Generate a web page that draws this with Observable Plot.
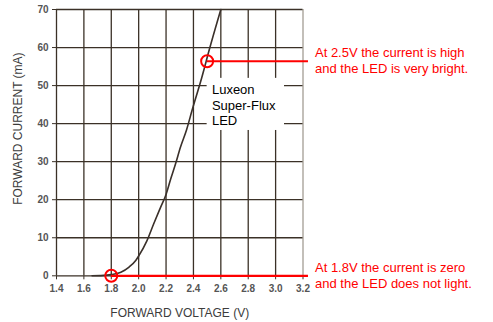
<!DOCTYPE html>
<html>
<head>
<meta charset="utf-8">
<script src="https://cdn.jsdelivr.net/npm/d3@7"></script>
<script src="https://cdn.jsdelivr.net/npm/@observablehq/plot@0.6"></script>
<style>
  html, body { margin: 0; padding: 0; background: #fff; }
  #chart svg { display: block; }
  #chart [aria-label="x-axis tick label"] text,
  #chart [aria-label="y-axis tick label"] text { font-weight: bold; }
  #chart [aria-label="x-axis label"] text { font-size: 12px; font-weight: normal; fill: #3c3c3c; }
</style>
</head>
<body>
<div id="chart"></div>
<script>
// Forward voltage (V) and forward current (mA) of the LED curve
const voltage = [1.66, 1.72, 1.80, 1.87, 1.93, 1.98, 2.00, 2.06, 2.11, 2.16, 2.20, 2.23, 2.27, 2.305, 2.35, 2.39, 2.46, 2.52, 2.60];
const current = [0, 0.05, 0.3, 0.95, 2.3, 4.1, 5.2, 9.2, 13.7, 18, 21.4, 25, 29.5, 33.8, 38.4, 43.5, 52, 60, 70];

const xTicks = [1.4, 1.6, 1.8, 2.0, 2.2, 2.4, 2.6, 2.8, 3.0, 3.2];
const yTicks = [0, 10, 20, 30, 40, 50, 60, 70];

const xTitle = "FORWARD VOLTAGE (V)";
const yTitle = "FORWARD CURRENT (mA)";

// highlighted operating points
const markV = [1.8, 2.5];
const markI = [0, 56.4];
const noteText = [
  "At 1.8V the current is zero\nand the LED does not light.",
  "At 2.5V the current is high\nand the LED is very bright."
];
const noteEndV = 3.24;

const ledLabel = "Luxeon\nSuper-Flux\nLED";
const ledLabelV = 2.535;
const ledLabelI = 45;
const ledBox = {x1: 2.50, x2: 3.065, y1: 38.2, y2: 51.9};

const curve = voltage.map((v, i) => ({v, i: current[i]}));
const marks = markV.map((v, k) => ({v, i: markI[k], note: noteText[k]}));

const grid = "#3b3127";

const chart = Plot.plot({
  width: 493,
  height: 322,
  marginLeft: 56,
  marginRight: 190.5,
  marginTop: 9,
  marginBottom: 46.7,
  style: {fontFamily: "'Liberation Sans', Arial, sans-serif", fontSize: "10px", color: "#555", background: "#fff"},
  x: {domain: [1.4, 3.2]},
  y: {domain: [0, 70]},
  marks: [
    Plot.ruleX(xTicks.slice(0, -1), {stroke: grid, strokeWidth: 1.3}),
    Plot.ruleX([3.2], {stroke: "#a39d94", strokeWidth: 1.3}),
    Plot.ruleY(yTicks, {stroke: grid, strokeWidth: 1.3}),
    Plot.rect([ledBox], {x1: "x1", x2: "x2", y1: "y1", y2: "y2", fill: "#fff"}),
    Plot.axisX({ticks: xTicks, tickFormat: d3.format(".1f"), tickSize: 4, tickPadding: 5, stroke: grid,
      label: xTitle, labelAnchor: "center", labelArrow: "none", labelOffset: 41, fill: "#555"}),
    Plot.axisY({ticks: yTicks, tickSize: 4, tickPadding: 4, stroke: grid, label: null, fill: "#555"}),
    Plot.text([yTitle], {text: d => d, frameAnchor: "left", textAnchor: "middle", rotate: -90, dx: -38, dy: -14,
      fontSize: 12, fill: "#3c3c3c", clip: false}),
    Plot.line(curve, {x: "v", y: "i", curve: "monotone-x", stroke: "#3a302a", strokeWidth: 1.6}),
    Plot.ruleY(marks, {y: "i", x1: "v", x2: () => noteEndV, stroke: "#f00", strokeWidth: 2.2, clip: false}),
    Plot.dot(marks, {x: "v", y: "i", r: 6, stroke: "#f00", strokeWidth: 2, fill: "none"}),
    Plot.text(marks, {x: () => 3.2, y: "i", text: "note", dx: 12, dy: -1, textAnchor: "start", lineAnchor: "middle",
      lineHeight: 1.23, fontSize: 13, fill: "#f00", clip: false}),
    Plot.text([ledLabel], {x: () => ledLabelV, y: () => ledLabelI, text: d => d, textAnchor: "start", lineAnchor: "middle",
      lineHeight: 1.2, fontSize: 13, fill: "#000"})
  ]
});
document.getElementById("chart").appendChild(chart);
</script>
</body>
</html>
